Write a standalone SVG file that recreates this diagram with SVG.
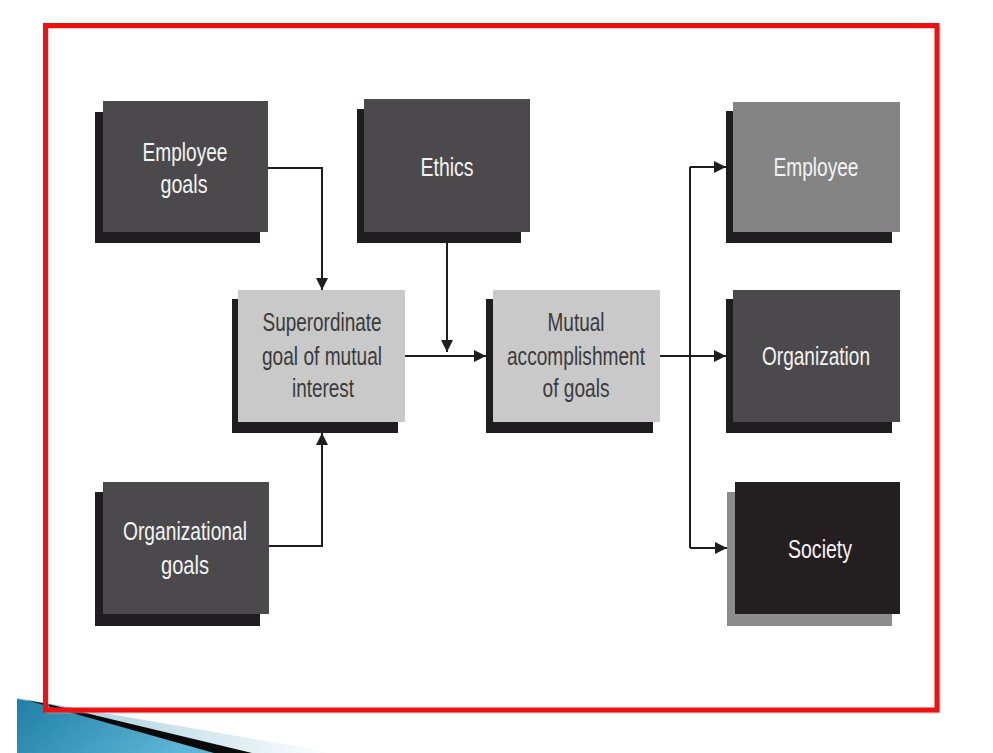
<svg xmlns="http://www.w3.org/2000/svg" width="993" height="753" viewBox="0 0 993 753">
<defs>
<linearGradient id="blueG" x1="0" y1="0" x2="1" y2="0.3">
<stop offset="0" stop-color="#1f7fa6"/>
<stop offset="1" stop-color="#5fb6d6"/>
</linearGradient>
<linearGradient id="lightG" x1="0" y1="0" x2="1" y2="0">
<stop offset="0" stop-color="#9cc8da"/>
<stop offset="0.6" stop-color="#d6e8f0"/>
<stop offset="1" stop-color="#ffffff"/>
</linearGradient>
<marker id="arr" markerUnits="userSpaceOnUse" markerWidth="12" markerHeight="12" refX="12" refY="6" orient="auto">
<path d="M0,0 L12,6 L0,12 z" fill="#1e1e1e"/>
</marker>
</defs>
<style>
.dark{fill:#4b494c}
.light{fill:#c9c9c9}
.mid{fill:#848484}
.black{fill:#231f20}
.sh{fill:#1f1d20}
.shg{fill:#8c8c8c}
.t{font-family:"Liberation Sans Narrow","Liberation Sans",Arial,sans-serif;font-size:26px;text-anchor:middle}
.tw{fill:#f3f3f3}
.td{fill:#3b3b3b}
.c{fill:none;stroke:#1e1e1e;stroke-width:2}
</style>
<rect x="0" y="0" width="993" height="753" fill="#ffffff"/>

<g id="decoration">
<polygon points="17,698 335,753 17,753" fill="url(#lightG)"/>
<polygon points="17,699 34,702 222,753 17,753" fill="url(#blueG)"/>
<polygon points="26,700 48,704 252,753 214,753" fill="#0a0a0a"/>
</g>

<g id="frame">
<rect x="47.5" y="27.5" width="891.5" height="684.5" fill="none" stroke="#e8a0a0" stroke-width="3" opacity="0.5"/>
<rect x="45.5" y="25.5" width="891.5" height="684.5" fill="none" stroke="#ee1111" stroke-width="5"/>
</g>

<g id="connectors">
<path class="c" d="M268,168 H322 V290" marker-end="url(#arr)"/>
<path class="c" d="M269,546 H322 V433" marker-end="url(#arr)"/>
<path class="c" d="M405,356 H486" marker-end="url(#arr)"/>
<path class="c" d="M447,243 V352" marker-end="url(#arr)"/>
<path class="c" d="M660,356 H726" marker-end="url(#arr)"/>
<path class="c" d="M690,167 V548"/>
<path class="c" d="M690,167 H726" marker-end="url(#arr)"/>
<path class="c" d="M690,548 H727" marker-end="url(#arr)"/>
</g>

<g id="node-employee-goals">
<rect class="sh" x="95" y="112" width="165" height="131"/>
<rect class="dark" x="103" y="101" width="165" height="131"/>
<text class="t tw" x="185" y="161" textLength="85" lengthAdjust="spacingAndGlyphs">Employee</text>
<text class="t tw" x="184" y="193" textLength="47" lengthAdjust="spacingAndGlyphs">goals</text>
</g>

<g id="node-ethics">
<rect class="sh" x="357" y="109" width="164" height="134"/>
<rect class="dark" x="364" y="99" width="166" height="133"/>
<text class="t tw" x="447" y="176" textLength="53" lengthAdjust="spacingAndGlyphs">Ethics</text>
</g>

<g id="node-organizational-goals">
<rect class="sh" x="95" y="492" width="165" height="134"/>
<rect class="dark" x="103" y="482" width="166" height="132"/>
<text class="t tw" x="185" y="540" textLength="124" lengthAdjust="spacingAndGlyphs">Organizational</text>
<text class="t tw" x="185" y="574" textLength="48" lengthAdjust="spacingAndGlyphs">goals</text>
</g>

<g id="node-superordinate">
<rect class="sh" x="232" y="299" width="166" height="134"/>
<rect class="light" x="238" y="290" width="167" height="132"/>
<text class="t td" x="322" y="331" textLength="119" lengthAdjust="spacingAndGlyphs">Superordinate</text>
<text class="t td" x="322" y="365" textLength="120" lengthAdjust="spacingAndGlyphs">goal of mutual</text>
<text class="t td" x="323" y="397" textLength="62" lengthAdjust="spacingAndGlyphs">interest</text>
</g>

<g id="node-mutual">
<rect class="sh" x="486" y="299" width="167" height="134"/>
<rect class="light" x="493" y="290" width="167" height="132"/>
<text class="t td" x="576" y="331" textLength="57" lengthAdjust="spacingAndGlyphs">Mutual</text>
<text class="t td" x="576" y="365" textLength="138" lengthAdjust="spacingAndGlyphs">accomplishment</text>
<text class="t td" x="576" y="397" textLength="67" lengthAdjust="spacingAndGlyphs">of goals</text>
</g>

<g id="node-employee">
<rect class="sh" x="726" y="111" width="166" height="132"/>
<rect class="mid" x="733" y="102" width="167" height="130"/>
<text class="t tw" x="816" y="176" textLength="85" lengthAdjust="spacingAndGlyphs">Employee</text>
</g>

<g id="node-organization">
<rect class="sh" x="726" y="299" width="166" height="134"/>
<rect class="dark" x="733" y="290" width="167" height="132"/>
<text class="t tw" x="816" y="365" textLength="108" lengthAdjust="spacingAndGlyphs">Organization</text>
</g>

<g id="node-society">
<rect class="shg" x="727" y="492" width="165" height="134"/>
<rect class="black" x="735" y="482" width="165" height="132"/>
<text class="t tw" x="820" y="558" textLength="64" lengthAdjust="spacingAndGlyphs">Society</text>
</g>
</svg>
